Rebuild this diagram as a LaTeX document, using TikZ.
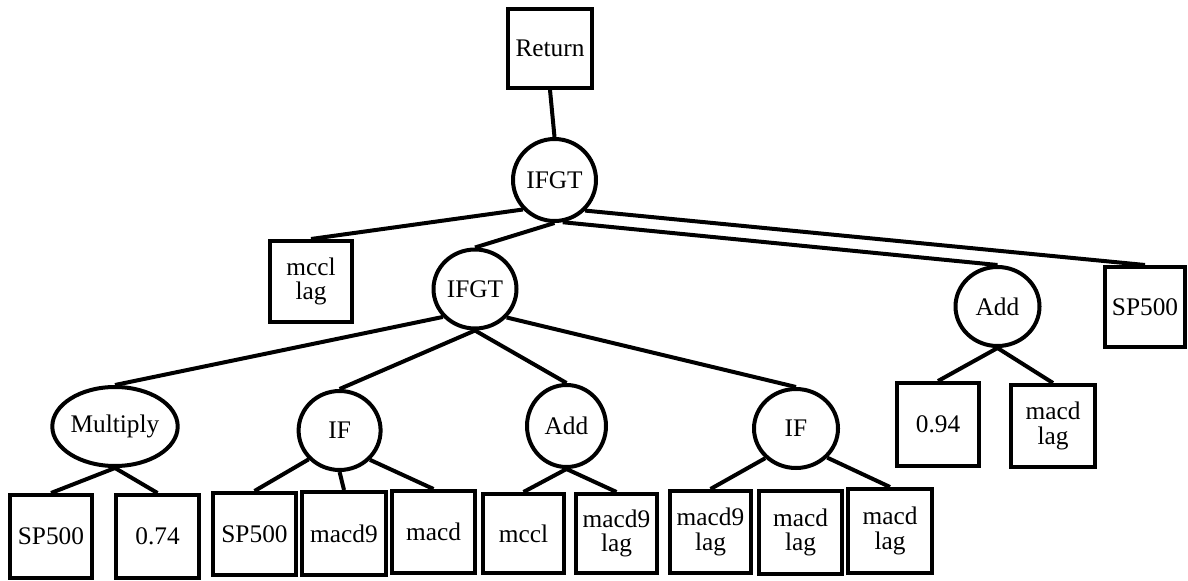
\documentclass[tikz,border=0pt]{standalone}
\usepackage{fontspec}
\setmainfont{Liberation Serif}
\usetikzlibrary{shapes.geometric}
\tikzset{
  lw/.style={line width=3pt},
  bx/.style 2 args={draw, lw, rectangle, inner sep=0pt, align=center,
    minimum width={(#1-4)*0.75pt}, minimum height={(#2-4)*0.75pt},
    font=\fontsize{19pt}{18.5pt}\selectfont},
  el/.style 2 args={draw, lw, ellipse, inner sep=0pt, align=center,
    minimum width={(#1-4)*0.75pt}, minimum height={(#2-4)*0.75pt},
    font=\fontsize{19pt}{18.5pt}\selectfont},
  conn/.style={lw}
}
\begin{document}
\begin{tikzpicture}[x=0.75pt,y=-0.75pt]
\useasboundingbox (0,0) rectangle (1188,581);
% inner nodes
\node[bx={88}{83}] (ret) at (550,48.5) {Return};
\node[el={87}{86}] (t1) at (554.5,180) {IFGT};
\node[el={87}{83}] (t2) at (475,289) {IFGT};
\node[bx={86}{85}] (mcclag) at (311,281.5) {mccl\\lag};
\node[el={88}{83}] (add2) at (997.5,306.5) {Add};
\node[bx={84}{84}] (spr) at (1145,307) {SP500};
\node[bx={86}{87}] (n094) at (938,424.5) {0.94};
\node[bx={88}{86}] (mlr) at (1053,426) {macd\\lag};
\node[el={126}{83}] (mul) at (115,426.5) {Multiply};
\node[el={86}{83}] (if1) at (339.6,430.5) {IF};
\node[el={83}{86}] (add1) at (566.5,426) {Add};
\node[el={88}{83}] (if2) at (796,428.5) {IF};
% leaves
\node[bx={86}{87}] (spl) at (51,536.5) {SP500};
\node[bx={87}{87}] (n074) at (157.5,536.5) {0.74};
\node[bx={87}{86}] (sp2) at (254.5,534) {SP500};
\node[bx={88}{87}] (m9) at (344,533.5) {macd9};
\node[bx={87}{86}] (macd) at (433.5,532) {macd};
\node[bx={85}{83}] (mccl) at (523.5,533.5) {mccl};
\node[bx={85}{83}] (m9l) at (616.5,533.5) {macd9\\lag};
\node[bx={85}{86}] (m9l2) at (710.5,532) {macd9\\lag};
\node[bx={87}{87}] (ml1) at (800.5,532.5) {macd\\lag};
\node[bx={88}{88}] (ml2) at (890,531) {macd\\lag};
% connectors
\draw[conn] (ret.south) -- (t1.north);
\draw[conn] (t1.223) -- (mcclag.north);
\draw[conn] (t1.south) -- (t2.north);
\draw[conn] (t1.281) -- (add2.north);
\draw[conn] (t1.315) -- (spr.north);
\draw[conn] (t2.221) -- (mul.north);
\draw[conn] (t2.south) -- (if1.north);
\draw[conn] (t2.south) -- (add1.north);
\draw[conn] (t2.318) -- (if2.north);
\draw[conn] (mul.south) -- (spl.north);
\draw[conn] (mul.south) -- (n074.north);
\draw[conn] (if1.223) -- (sp2.north);
\draw[conn] (if1.south) -- (m9.north);
\draw[conn] (if1.316) -- (macd.north);
\draw[conn] (add1.south) -- (mccl.north);
\draw[conn] (add1.south) -- (m9l.north);
\draw[conn] (if2.224) -- (m9l2.north);
\draw[conn] (if2.317) -- (ml2.north);
\draw[conn] (add2.south) -- (n094.north);
\draw[conn] (add2.south) -- (mlr.north);
\end{tikzpicture}
\end{document}
